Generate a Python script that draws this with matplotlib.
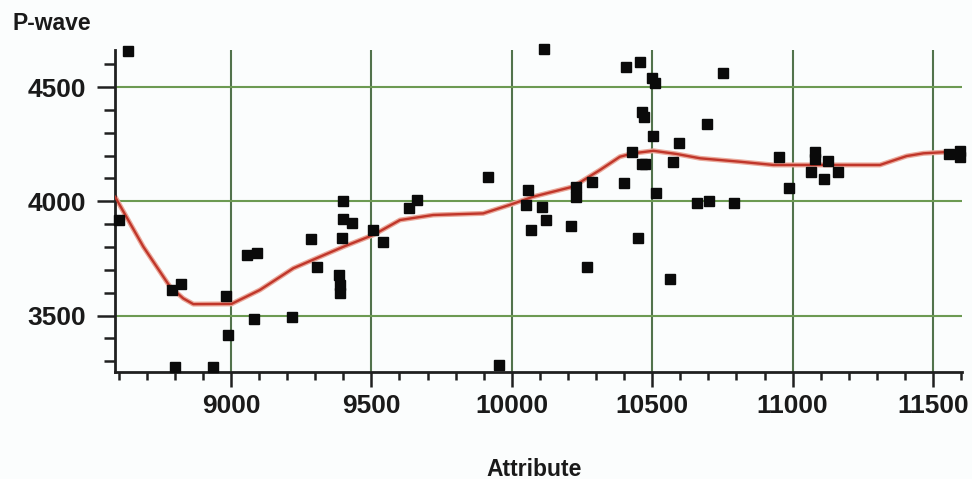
#!/usr/bin/env python3
"""Crossplot of P-wave velocity against an attribute with a smoothed trend."""

import matplotlib

matplotlib.use("Agg")
import matplotlib.pyplot as plt
from matplotlib.ticker import MultipleLocator

# scatter samples (attribute, P-wave)
attr_values = [
    8634, 8602, 8789, 8821, 8982, 8990, 8801, 8937, 9056, 9094,
    9082, 9216, 9284, 9305, 9400, 9400, 9430, 9394, 9385, 9388,
    9388, 9505, 9540, 9635, 9661, 9916, 9956, 10115, 10059, 10051,
    10067, 10106, 10122, 10210, 10229, 10229, 10267, 10285, 10400, 10407,
    10457, 10451, 10427, 10462, 10470, 10463, 10474, 10498, 10510, 10504,
    10514, 10563, 10575, 10597, 10661, 10703, 10694, 10751, 10791, 10953,
    10988, 11080, 11080, 11066, 11127, 11112, 11163, 11558, 11596, 11596,
]
pwave_values = [
    4659, 3918, 3612, 3638, 3586, 3415, 3276, 3273, 3765, 3775,
    3484, 3492, 3834, 3714, 4003, 3921, 3906, 3838, 3677, 3634,
    3597, 3874, 3823, 3969, 4006, 4108, 3284, 4665, 4049, 3984,
    3874, 3976, 3918, 3892, 4064, 4020, 3714, 4086, 4081, 4589,
    4611, 3838, 4217, 4390, 4370, 4163, 4163, 4538, 4519, 4286,
    4038, 3659, 4171, 4254, 3991, 4001, 4337, 4560, 3991, 4195,
    4060, 4217, 4184, 4130, 4178, 4098, 4130, 4207, 4220, 4192,
]

# smoothed trend
trend_attr = [
    8587, 8688, 8783, 8830, 8866, 9002, 9103, 9222, 9305, 9400,
    9507, 9602, 9720, 9898, 9992, 10076, 10218, 10314, 10385, 10432,
    10504, 10587, 10671, 10813, 10931, 11050, 11169, 11311, 11406, 11466,
    11572, 11600,
]
trend_pwave = [
    4020, 3801, 3626, 3575, 3550, 3551, 3612, 3707, 3751, 3801,
    3853, 3918, 3940, 3947, 3984, 4020, 4064, 4137, 4195, 4210,
    4221, 4207, 4188, 4173, 4159, 4159, 4159, 4159, 4198, 4210,
    4217, 4218,
]

x_ticks = [9000, 9500, 10000, 10500, 11000, 11500]
y_ticks = [3500, 4000, 4500]

LABEL_FONT = ["Liberation Sans", "DejaVu Sans"]


def main() -> int:
    fig = plt.figure(figsize=(9.72, 4.79), dpi=100)
    fig.patch.set_facecolor("#fbfdfd")
    ax = fig.add_axes([115 / 972, 1 - 372 / 479, 847 / 972, 322 / 479])
    ax.set_facecolor("#fbfdfd")

    ax.set_xlim(8587, 11603)
    ax.set_ylim(3253, 4662)

    for spine in ("top", "right"):
        ax.spines[spine].set_visible(False)
    for spine in ("left", "bottom"):
        ax.spines[spine].set_linewidth(2.0)
        ax.spines[spine].set_color("#202020")

    ax.set_xticks(x_ticks)
    ax.set_yticks(y_ticks)
    ax.xaxis.set_minor_locator(MultipleLocator(100))
    ax.yaxis.set_minor_locator(MultipleLocator(100))

    for xv in x_ticks:
        ax.axvline(xv, color="#52734c", lw=1.5, zorder=1)
    for yv in y_ticks:
        ax.axhline(yv, color="#6c9a52", lw=1.5, zorder=1)

    ax.tick_params(axis="y", which="major", direction="out", length=13,
                   width=1.8, pad=8, colors="#202020")
    ax.tick_params(axis="y", which="minor", direction="out", length=8,
                   width=1.8, colors="#202020")
    ax.tick_params(axis="x", which="major", direction="out", length=11,
                   width=1.8, pad=5, colors="#202020")
    ax.tick_params(axis="x", which="minor", direction="out", length=6,
                   width=1.8, colors="#202020")
    for label in ax.get_xticklabels() + ax.get_yticklabels():
        label.set_family(LABEL_FONT)
        label.set_fontweight("bold")
        label.set_fontsize(19)
        label.set_color("#1a1a1a")

    ax.plot(trend_attr, trend_pwave, color="#eaa89a", lw=3.6, zorder=2,
            solid_capstyle="round", solid_joinstyle="round")
    ax.plot(trend_attr, trend_pwave, color="#c0362a", lw=1.7, zorder=3,
            solid_joinstyle="round")
    ax.plot(attr_values, pwave_values, linestyle="none", marker="s",
            markersize=6.5, color="#0a0a0a", zorder=4, clip_on=False)

    fig.text(12 / 972, 1 - 24 / 479, "P-wave", family=LABEL_FONT,
             fontweight="bold", fontsize=16.5, color="#1a1a1a",
             ha="left", va="center")
    fig.text(534 / 972, 1 - 469 / 479, "Attribute", family=LABEL_FONT,
             fontweight="bold", fontsize=16.5, color="#1a1a1a",
             ha="center", va="center")

    fig.savefig("out.png", dpi=100, facecolor=fig.get_facecolor())
    plt.close(fig)
    return 0


if __name__ == "__main__":
    raise SystemExit(main())
